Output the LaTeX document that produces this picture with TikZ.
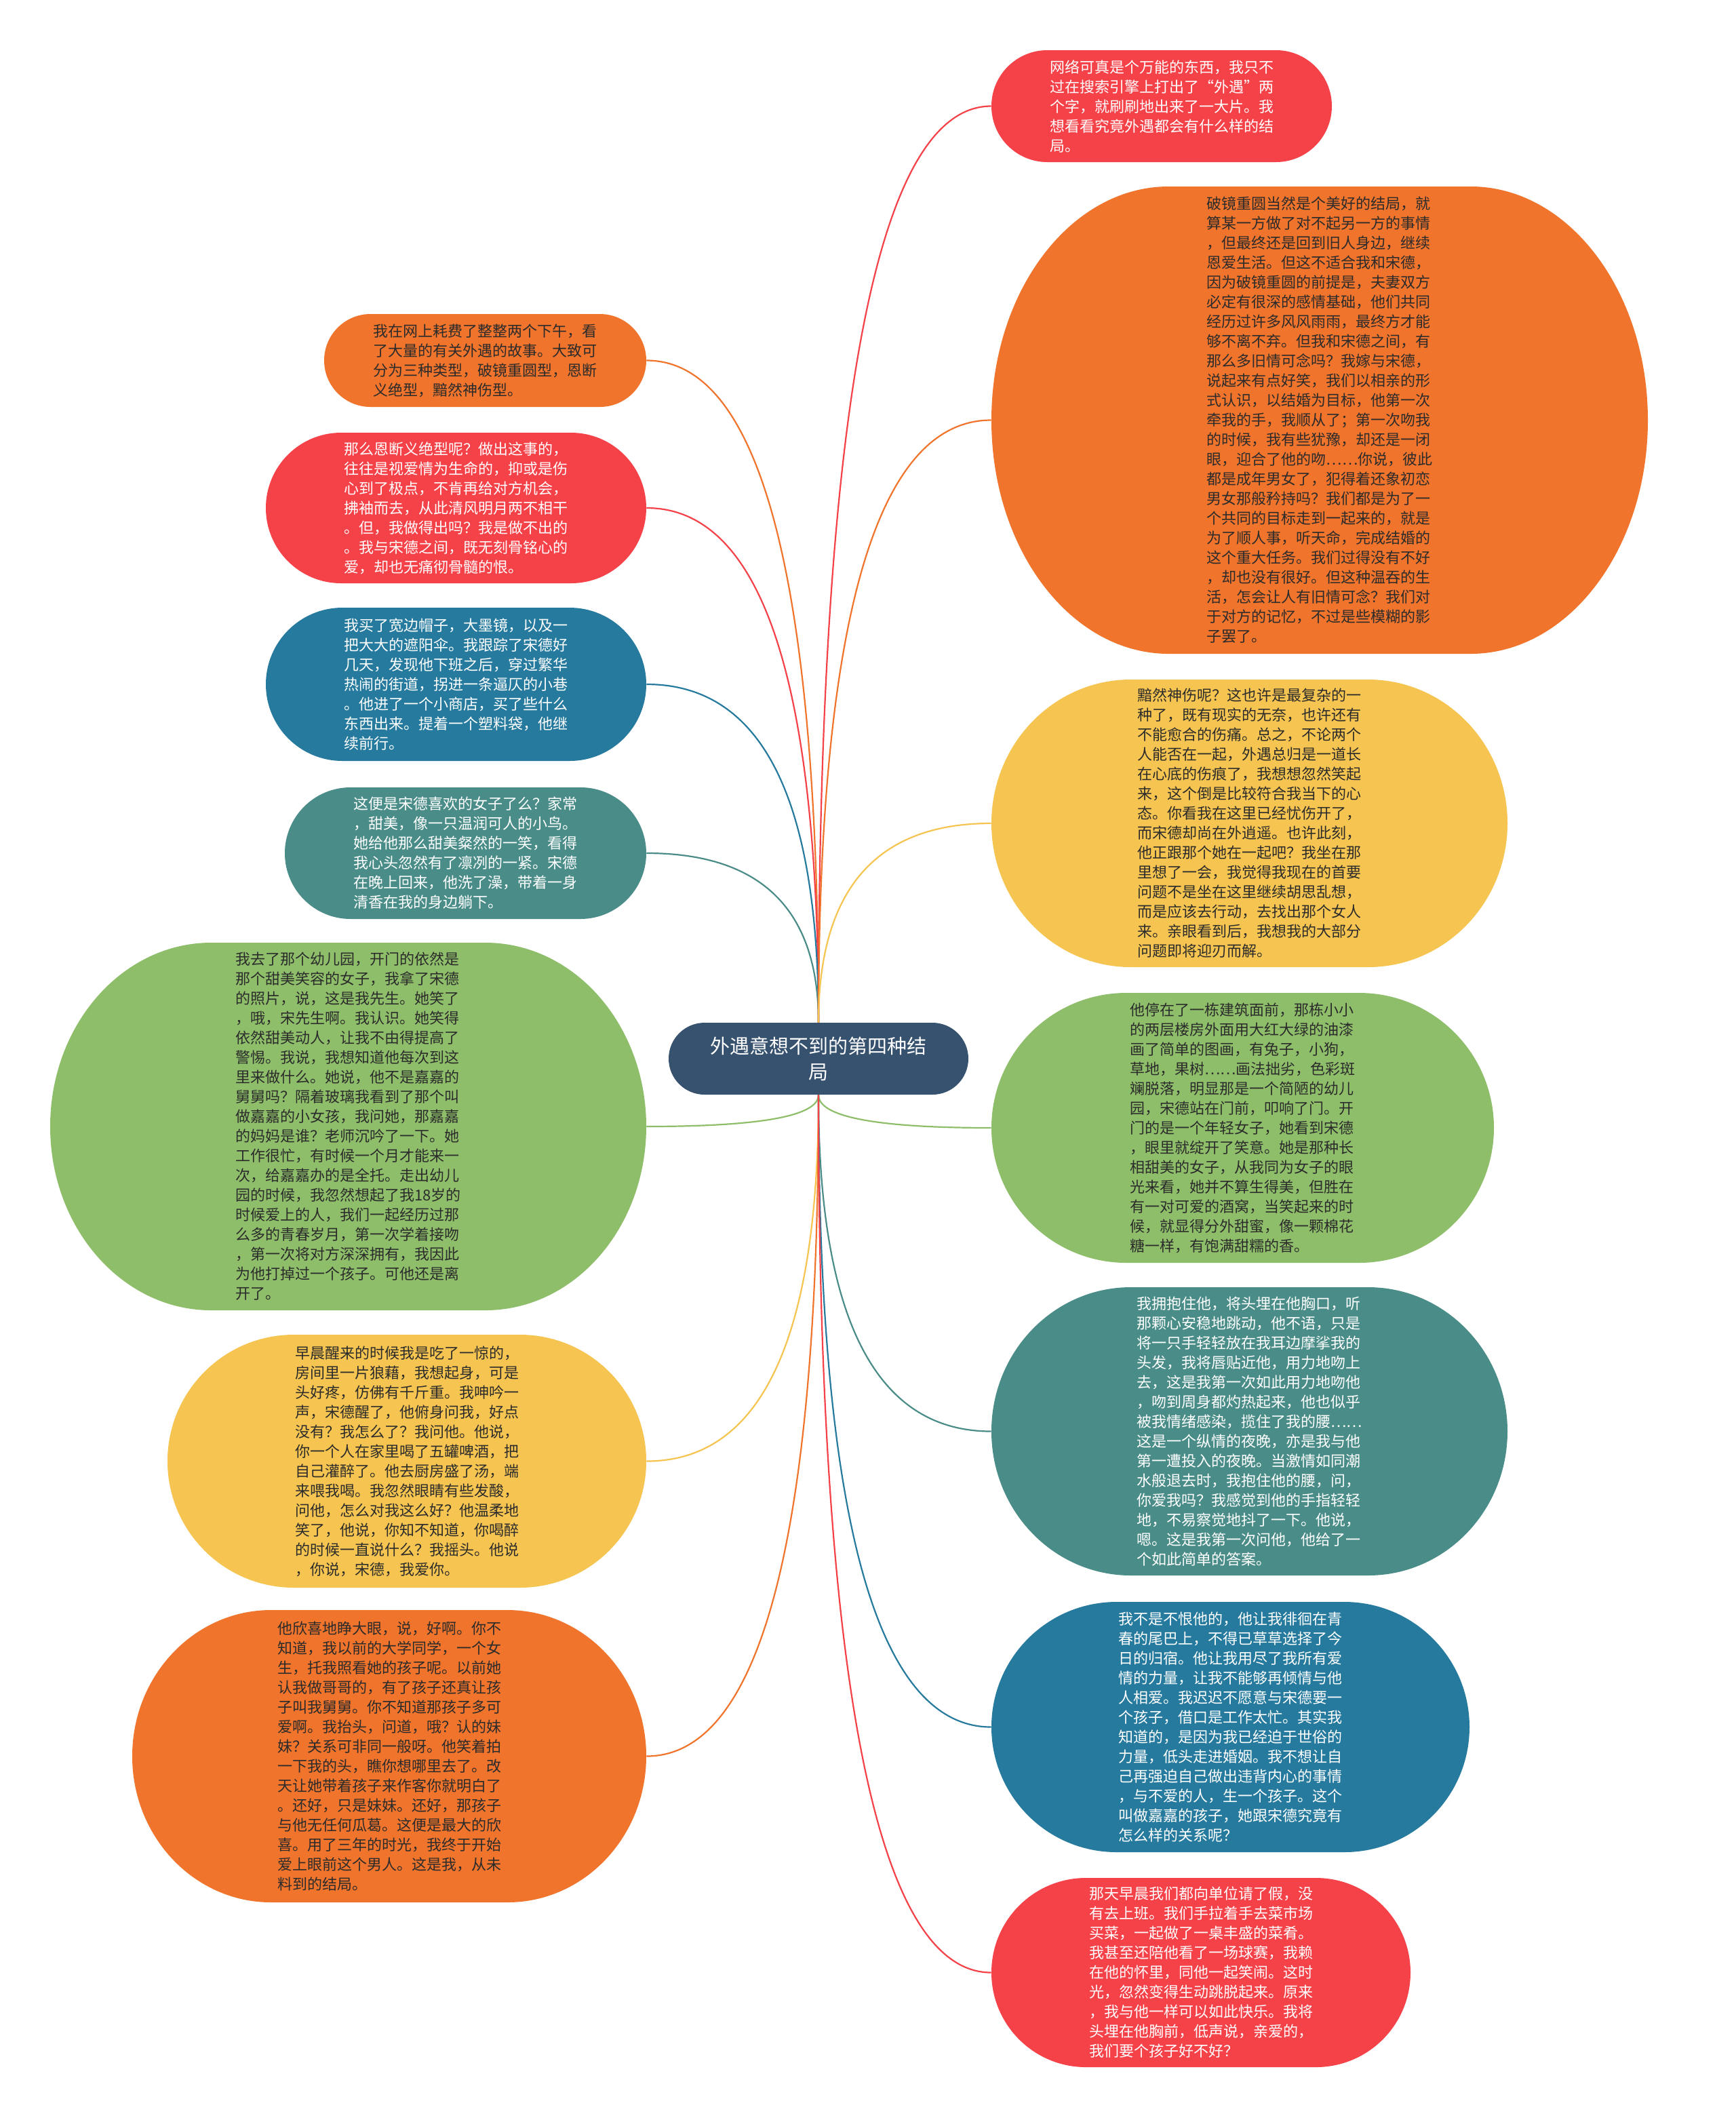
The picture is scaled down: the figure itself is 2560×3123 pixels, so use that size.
\documentclass[tikz,border=0pt]{standalone}
\usepackage{fontspec}
\newfontfamily\cjkfont{Noto Sans CJK SC}
\usetikzlibrary{calc}
\definecolor{corange}{HTML}{F0742C}
\definecolor{cred}{HTML}{F54148}
\definecolor{cblue}{HTML}{257A9E}
\definecolor{cteal}{HTML}{4A8D88}
\definecolor{cgreen}{HTML}{8EBE6A}
\definecolor{cyellow}{HTML}{F6C450}
\definecolor{cnavy}{HTML}{37526E}
\definecolor{cdark}{HTML}{2B2B2B}
\tikzset{
  txt/.style={font={\cjkfont\fontsize{11pt}{14.5pt}\selectfont}, align=left, inner sep=0pt},
  link/.style={line width=1.1pt},
}
% #1 name, #2 left, #3 top, #4 right, #5 bottom (pixels), #6 fill, #7 text colour, #8 text
\newcommand\bub[8]{%
  \pgfmathsetmacro\bw{#4-#2}%
  \pgfmathsetmacro\bh{#5-#3}%
  \pgfmathsetmacro\bry{\bh/2}%
  \pgfmathsetmacro\brx{min(\bry,0.27*\bw)}%
  \fill[#6] ({#2+\brx},{-#3}) -- ({#4-\brx},{-#3})
     arc[start angle=90,end angle=-90,x radius=\brx,y radius=\bry]
     -- ({#2+\brx},{-#5})
     arc[start angle=270,end angle=90,x radius=\brx,y radius=\bry] -- cycle;
  \node[txt, text=#7, minimum width=\bw*0.5pt, minimum height=\bh*0.5pt]
     (#1) at ({(#2+#4)/2},{-(#3+#5)/2}) {#8};
}
% #1 start point, #2 target node, #3 target anchor, #4 colour
\newcommand\conn[4]{%
  \coordinate (k#2) at (#1 |- #2.#3);
  \draw[link,#4] (#1) .. controls ($(#1)!0.6667!(k#2)$) and ($(#2.#3)!0.6667!(k#2)$) .. (#2.#3);
}
\begin{document}
\begin{tikzpicture}[x=0.5pt,y=0.5pt]
\useasboundingbox[fill=white] (0,0) rectangle (2560,-3123);

% centre
\bub{c}{986}{1508}{1428}{1614}{cnavy}{white}{}
\node[font={\cjkfont\fontsize{14.5pt}{19pt}\selectfont}, text=white, align=center] (ct) at (c) {外遇意想不到的第四种结\\局};

% left side
\bub{L1}{478}{463}{953}{600}{corange}{cdark}{我在网上耗费了整整两个下午，看\\了大量的有关外遇的故事。大致可\\分为三种类型，破镜重圆型，恩断\\义绝型，黯然神伤型。}

\bub{L2}{392}{638}{953}{860}{cred}{white}{那么恩断义绝型呢？做出这事的，\\往往是视爱情为生命的，抑或是伤\\心到了极点，不肯再给对方机会，\\拂袖而去，从此清风明月两不相干\\。但，我做得出吗？我是做不出的\\。我与宋德之间，既无刻骨铭心的\\爱，却也无痛彻骨髓的恨。}

\bub{L3}{392}{896}{953}{1122}{cblue}{white}{我买了宽边帽子，大墨镜，以及一\\把大大的遮阳伞。我跟踪了宋德好\\几天，发现他下班之后，穿过繁华\\热闹的街道，拐进一条逼仄的小巷\\。他进了一个小商店，买了些什么\\东西出来。提着一个塑料袋，他继\\续前行。}

\bub{L4}{420}{1161}{953}{1355}{cteal}{white}{这便是宋德喜欢的女子了么？家常\\，甜美，像一只温润可人的小鸟。\\她给他那么甜美粲然的一笑，看得\\我心头忽然有了凛冽的一紧。宋德\\在晚上回来，他洗了澡，带着一身\\清香在我的身边躺下。}

\bub{L5}{74}{1390}{953}{1932}{cgreen}{cdark}{我去了那个幼儿园，开门的依然是\\那个甜美笑容的女子，我拿了宋德\\的照片，说，这是我先生。她笑了\\，哦，宋先生啊。我认识。她笑得\\依然甜美动人，让我不由得提高了\\警惕。我说，我想知道他每次到这\\里来做什么。她说，他不是嘉嘉的\\舅舅吗？隔着玻璃我看到了那个叫\\做嘉嘉的小女孩，我问她，那嘉嘉\\的妈妈是谁？老师沉吟了一下。她\\工作很忙，有时候一个月才能来一\\次，给嘉嘉办的是全托。走出幼儿\\园的时候，我忽然想起了我18岁的\\时候爱上的人，我们一起经历过那\\么多的青春岁月，第一次学着接吻\\，第一次将对方深深拥有，我因此\\为他打掉过一个孩子。可他还是离\\开了。}

\bub{L6}{247}{1968}{953}{2341}{cyellow}{cdark}{早晨醒来的时候我是吃了一惊的，\\房间里一片狼藉，我想起身，可是\\头好疼，仿佛有千斤重。我呻吟一\\声，宋德醒了，他俯身问我，好点\\没有？我怎么了？我问他。他说，\\你一个人在家里喝了五罐啤酒，把\\自己灌醉了。他去厨房盛了汤，端\\来喂我喝。我忽然眼睛有些发酸，\\问他，怎么对我这么好？他温柔地\\笑了，他说，你知不知道，你喝醉\\的时候一直说什么？我摇头。他说\\，你说，宋德，我爱你。}

\bub{L7}{195}{2374}{953}{2805}{corange}{cdark}{他欣喜地睁大眼，说，好啊。你不\\知道，我以前的大学同学，一个女\\生，托我照看她的孩子呢。以前她\\认我做哥哥的，有了孩子还真让孩\\子叫我舅舅。你不知道那孩子多可\\爱啊。我抬头，问道，哦？认的妹\\妹？关系可非同一般呀。他笑着拍\\一下我的头，瞧你想哪里去了。改\\天让她带着孩子来作客你就明白了\\。还好，只是妹妹。还好，那孩子\\与他无任何瓜葛。这便是最大的欣\\喜。用了三年的时光，我终于开始\\爱上眼前这个男人。这是我，从未\\料到的结局。}

% right side
\bub{R1}{1462}{74}{1964}{239}{cred}{white}{网络可真是个万能的东西，我只不\\过在搜索引擎上打出了“外遇”两\\个字，就刷刷地出来了一大片。我\\想看看究竟外遇都会有什么样的结\\局。}

\bub{R2}{1462}{275}{2430}{964}{corange}{cdark}{破镜重圆当然是个美好的结局，就\\算某一方做了对不起另一方的事情\\，但最终还是回到旧人身边，继续\\恩爱生活。但这不适合我和宋德，\\因为破镜重圆的前提是，夫妻双方\\必定有很深的感情基础，他们共同\\经历过许多风风雨雨，最终方才能\\够不离不弃。但我和宋德之间，有\\那么多旧情可念吗？我嫁与宋德，\\说起来有点好笑，我们以相亲的形\\式认识，以结婚为目标，他第一次\\牵我的手，我顺从了；第一次吻我\\的时候，我有些犹豫，却还是一闭\\眼，迎合了他的吻……你说，彼此\\都是成年男女了，犯得着还象初恋\\男女那般矜持吗？我们都是为了一\\个共同的目标走到一起来的，就是\\为了顺人事，听天命，完成结婚的\\这个重大任务。我们过得没有不好\\，却也没有很好。但这种温吞的生\\活，怎会让人有旧情可念？我们对\\于对方的记忆，不过是些模糊的影\\子罢了。}

\bub{R3}{1462}{1002}{2223}{1426}{cyellow}{cdark}{黯然神伤呢？这也许是最复杂的一\\种了，既有现实的无奈，也许还有\\不能愈合的伤痛。总之，不论两个\\人能否在一起，外遇总归是一道长\\在心底的伤痕了，我想想忽然笑起\\来，这个倒是比较符合我当下的心\\态。你看我在这里已经忧伤开了，\\而宋德却尚在外逍遥。也许此刻，\\他正跟那个她在一起吧？我坐在那\\里想了一会，我觉得我现在的首要\\问题不是坐在这里继续胡思乱想，\\而是应该去行动，去找出那个女人\\来。亲眼看到后，我想我的大部分\\问题即将迎刃而解。}

\bub{R4}{1462}{1464}{2203}{1862}{cgreen}{cdark}{他停在了一栋建筑面前，那栋小小\\的两层楼房外面用大红大绿的油漆\\画了简单的图画，有兔子，小狗，\\草地，果树……画法拙劣，色彩斑\\斓脱落，明显那是一个简陋的幼儿\\园，宋德站在门前，叩响了门。开\\门的是一个年轻女子，她看到宋德\\，眼里就绽开了笑意。她是那种长\\相甜美的女子，从我同为女子的眼\\光来看，她并不算生得美，但胜在\\有一对可爱的酒窝，当笑起来的时\\候，就显得分外甜蜜，像一颗棉花\\糖一样，有饱满甜糯的香。}

\bub{R5}{1462}{1898}{2223}{2323}{cteal}{white}{我拥抱住他，将头埋在他胸口，听\\那颗心安稳地跳动，他不语，只是\\将一只手轻轻放在我耳边摩挲我的\\头发，我将唇贴近他，用力地吻上\\去，这是我第一次如此用力地吻他\\，吻到周身都灼热起来，他也似乎\\被我情绪感染，揽住了我的腰……\\这是一个纵情的夜晚，亦是我与他\\第一遭投入的夜晚。当激情如同潮\\水般退去时，我抱住他的腰，问，\\你爱我吗？我感觉到他的手指轻轻\\地，不易察觉地抖了一下。他说，\\嗯。这是我第一次问他，他给了一\\个如此简单的答案。}

\bub{R6}{1462}{2362}{2167}{2731}{cblue}{white}{我不是不恨他的，他让我徘徊在青\\春的尾巴上，不得已草草选择了今\\日的归宿。他让我用尽了我所有爱\\情的力量，让我不能够再倾情与他\\人相爱。我迟迟不愿意与宋德要一\\个孩子，借口是工作太忙。其实我\\知道的，是因为我已经迫于世俗的\\力量，低头走进婚姻。我不想让自\\己再强迫自己做出违背内心的事情\\，与不爱的人，生一个孩子。这个\\叫做嘉嘉的孩子，她跟宋德究竟有\\怎么样的关系呢？}

\bub{R7}{1462}{2769}{2080}{3048}{cred}{white}{那天早晨我们都向单位请了假，没\\有去上班。我们手拉着手去菜市场\\买菜，一起做了一桌丰盛的菜肴。\\我甚至还陪他看了一场球赛，我赖\\在他的怀里，同他一起笑闹。这时\\光，忽然变得生动跳脱起来。原来\\，我与他一样可以如此快乐。我将\\头埋在他胸前，低声说，亲爱的，\\我们要个孩子好不好？}

% connectors
\conn{c.north}{L1}{east}{corange}
\conn{c.north}{L2}{east}{cred}
\conn{c.north}{L3}{east}{cblue}
\conn{c.north}{L4}{east}{cteal}
\conn{c.south}{L5}{east}{cgreen}
\conn{c.south}{L6}{east}{cyellow}
\conn{c.south}{L7}{east}{corange}
\conn{c.north}{R1}{west}{cred}
\conn{c.north}{R2}{west}{corange}
\conn{c.north}{R3}{west}{cyellow}
\conn{c.south}{R4}{west}{cgreen}
\conn{c.south}{R5}{west}{cteal}
\conn{c.south}{R6}{west}{cblue}
\conn{c.south}{R7}{west}{cred}
\end{tikzpicture}
\end{document}
